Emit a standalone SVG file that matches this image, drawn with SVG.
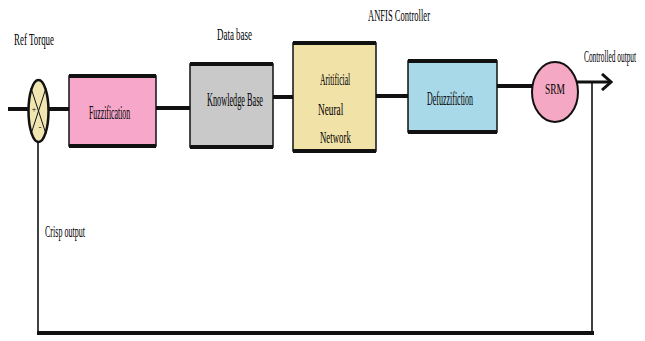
<svg xmlns="http://www.w3.org/2000/svg" width="645" height="341" viewBox="0 0 645 341">
<style>
  text { font-family: "Liberation Serif", "DejaVu Serif", serif; fill: #000; }
  .lbl { font-size: 16px; }
  .in { font-size: 19px; }
  .ann { font-size: 16px; }
  .box { stroke: #111; stroke-width: 1.5; }
  .edge { stroke: #111; stroke-width: 4; }
  .thick { stroke: #111; stroke-width: 4; fill: none; }
  .thin { stroke: #111; stroke-width: 1.6; fill: none; }
</style>
<defs>
  <marker id="arr" viewBox="0 0 12 18" refX="10" refY="9" markerWidth="12" markerHeight="18" markerUnits="userSpaceOnUse" orient="auto">
    <path d="M1,1 L10,9 L1,17" fill="none" stroke="#111" stroke-width="3"/>
  </marker>
</defs>
<rect width="645" height="341" fill="#fff"/>

<text class="lbl" x="14" y="45" textLength="40" lengthAdjust="spacingAndGlyphs">Ref Torque</text>
<text class="lbl" x="217" y="40" textLength="35" lengthAdjust="spacingAndGlyphs">Data base</text>
<text class="lbl" x="368" y="21" textLength="62" lengthAdjust="spacingAndGlyphs">ANFIS Controller</text>
<text class="lbl" transform="translate(584,62) scale(0.46,1)">Controlled output</text>
<text class="lbl" x="45" y="237" textLength="40" lengthAdjust="spacingAndGlyphs">Crisp output</text>

<g id="connectors">
  <line class="thick" x1="8" y1="109" x2="29" y2="109"/>
  <line class="thick" x1="48" y1="109" x2="70" y2="109"/>
  <line class="thick" x1="156" y1="108" x2="190" y2="108"/>
  <line class="thick" x1="273" y1="97" x2="293" y2="97"/>
  <line class="thick" x1="376" y1="96" x2="408" y2="96"/>
  <line class="thick" x1="497" y1="86" x2="533" y2="86"/>
  <line stroke="#111" stroke-width="3" x1="577" y1="82" x2="611" y2="82" marker-end="url(#arr)"/>
  <line class="thin" x1="592" y1="82" x2="592" y2="333"/>
  <line class="thin" x1="38" y1="142" x2="38" y2="333"/>
  <line class="thick" x1="37" y1="333" x2="594" y2="333"/>
</g>

<g id="junction">
  <ellipse cx="38.5" cy="111" rx="10" ry="31" fill="#F1E6B2" stroke="#111" stroke-width="2.5"/>
  <line x1="31" y1="88" x2="46" y2="134" stroke="#111" stroke-width="1"/>
  <line x1="46" y1="88" x2="31" y2="134" stroke="#111" stroke-width="1"/>
  <text x="34" y="112" font-size="8" text-anchor="middle">+</text>
  <text x="40" y="130" font-size="9" text-anchor="middle">-</text>
</g>

<g id="fuzzification">
  <rect class="box" x="69" y="76" width="87" height="70" fill="#F7A8CA"/>
  <line class="edge" x1="69" y1="76" x2="156" y2="76"/>
  <line class="edge" x1="69" y1="146" x2="156" y2="146"/>
  <text class="in" transform="translate(89,119) scale(0.41,1)">Fuzzification</text>
</g>

<g id="knowledge-base">
  <rect class="box" x="190" y="64" width="83" height="83" fill="#C9C9C9"/>
  <line class="edge" x1="190" y1="64" x2="273" y2="64"/>
  <line class="edge" x1="190" y1="147" x2="273" y2="147"/>
  <text class="in" transform="translate(207,106) scale(0.434,1)">Knowledge Base</text>
</g>

<g id="ann">
  <rect class="box" x="293" y="43" width="83" height="108" fill="#F1E2A8"/>
  <line class="edge" x1="293" y1="43" x2="376" y2="43"/>
  <line class="edge" x1="293" y1="151" x2="376" y2="151"/>
  <text class="ann" transform="translate(320,85) scale(0.48,1)">Aritificial</text>
  <text class="ann" transform="translate(318,115) scale(0.58,1)">Neural</text>
  <text class="ann" transform="translate(320,143) scale(0.55,1)">Network</text>
</g>

<g id="defuzzification">
  <rect class="box" x="408" y="61" width="89" height="71" fill="#A8D9E9"/>
  <line class="edge" x1="408" y1="61" x2="497" y2="61"/>
  <line class="edge" x1="408" y1="132" x2="497" y2="132"/>
  <text class="in" transform="translate(427,105) scale(0.42,1)">Defuzzifiction</text>
</g>

<g id="srm">
  <ellipse cx="555" cy="92" rx="23" ry="30" fill="#F5A8C3" stroke="#111" stroke-width="2"/>
  <text x="555" y="94" font-size="15" text-anchor="middle" textLength="20" lengthAdjust="spacingAndGlyphs">SRM</text>
</g>
</svg>
